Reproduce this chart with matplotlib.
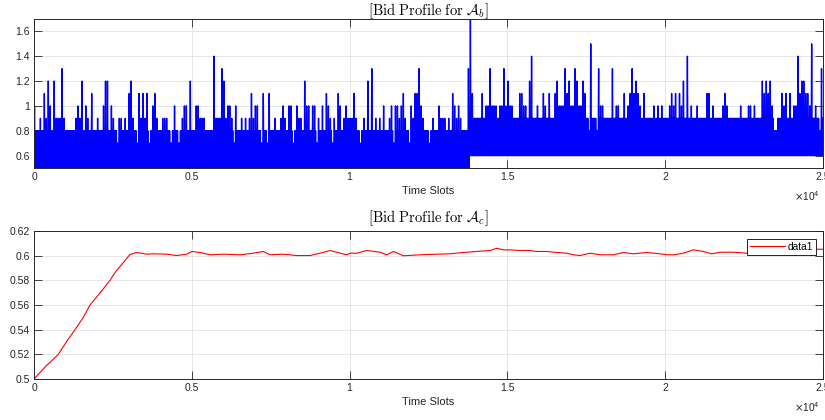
import numpy as np
import matplotlib
matplotlib.use("Agg")
import matplotlib.pyplot as plt

plt.rcParams["font.family"] = ["Liberation Sans", "DejaVu Sans"]

# ---------------- data ----------------
slots_total = 25000

# top panel: per-bin peak bid (in tenths), 400 bins over 25000 slots
bid_b_peak_tenths = [
    # bins 0-66
    10, 8, 8, 9, 8, 11, 9, 12, 10, 8, 12, 9, 9, 9, 13, 9, 8, 8, 8, 8,
    8, 9, 10, 9, 12, 8, 10, 9, 8, 11, 8, 8, 9, 8, 8, 10, 12, 12, 8, 10,
    9, 8, 7, 9, 9, 8, 9, 8, 11, 12, 9, 8, 7, 11, 9, 11, 9, 11, 7, 8,
    10, 11, 9, 8, 8, 9, 9,
    # bins 67-133
    9, 8, 7, 8, 10, 8, 7, 8, 9, 10, 10, 8, 12, 8, 8, 10, 10, 9, 9, 9,
    8, 8, 8, 8, 14, 9, 9, 9, 13, 12, 9, 10, 10, 9, 7, 10, 8, 8, 9, 8,
    9, 8, 9, 11, 9, 10, 10, 8, 7, 11, 8, 7, 11, 8, 8, 9, 8, 8, 9, 10,
    9, 8, 10, 10, 7, 8, 10,
    # bins 134-201
    9, 9, 8, 12, 10, 10, 8, 10, 10, 7, 9, 8, 10, 8, 11, 10, 9, 7, 9, 8,
    11, 10, 8, 9, 10, 9, 9, 9, 11, 9, 8, 7, 8, 9, 8, 12, 8, 13, 8, 9,
    8, 9, 8, 10, 8, 8, 9, 10, 7, 10, 10, 9, 10, 11, 9, 8, 7, 10, 9, 11,
    11, 13, 10, 9, 8, 8, 7, 8,
    # bins 202-268
    9, 8, 8, 10, 9, 9, 9, 8, 9, 8, 11, 10, 9, 10, 9, 8, 8, 8, 13, 17,
    11, 9, 9, 9, 9, 11, 9, 10, 10, 13, 10, 10, 10, 9, 10, 10, 13, 10, 12, 10,
    10, 9, 9, 9, 11, 11, 10, 10, 9, 12, 14, 9, 9, 10, 9, 9, 11, 10, 9, 11,
    9, 9, 11, 12, 10, 10, 10,
    # bins 269-336
    13, 11, 12, 10, 10, 13, 12, 10, 10, 12, 11, 9, 8, 15, 9, 9, 8, 13, 10, 10,
    9, 9, 9, 9, 13, 9, 10, 10, 9, 9, 11, 9, 10, 11, 13, 11, 12, 11, 10, 9,
    11, 9, 9, 9, 9, 10, 9, 10, 9, 10, 9, 9, 9, 10, 11, 10, 11, 9, 11, 10,
    12, 9, 14, 9, 10, 9, 9, 10,
    # bins 337-399
    9, 9, 9, 9, 11, 11, 9, 10, 9, 9, 9, 9, 10, 11, 10, 9, 9, 9, 9, 9,
    9, 10, 9, 9, 9, 10, 10, 9, 10, 9, 9, 9, 12, 11, 12, 11, 12, 10, 8, 8,
    9, 9, 11, 10, 11, 9, 11, 9, 10, 10, 14, 11, 12, 12, 11, 11, 10, 15, 9, 10,
    9, 8, 13,
]
bid_b_floor_before = 0.5
bid_b_floor_after = 0.6
bid_b_common_before = 0.8
bid_b_common_after = 0.9
bid_b_switch_slot = 13800

# bottom panel
bid_c_slots = [0, 380, 771, 1050, 1299, 1550, 1775, 2100, 2408, 2600, 2800, 3042, 3253,
               3570, 3782, 4204, 4521, 4838, 5007, 5260, 5577, 6000, 6528, 6950,
               7267, 7479, 7901, 8323, 8746, 9063, 9380, 9591, 9908, 10013, 10225,
               10542, 10965, 11176, 11387, 11704, 12232, 12761, 13183, 13606,
               14028, 14451, 14662, 14873, 15085, 15402, 15719, 15930, 16247,
               16564, 16881, 17092, 17303, 17620, 17937, 18360, 18677, 18994,
               19416, 19839, 20050, 20262, 20579, 20896, 21213, 21477, 21741,
               22164, 22586, 23009, 23500, 24200, 24803, 25000]
bid_c_values = [0.5, 0.5105, 0.52, 0.531, 0.54, 0.5495, 0.56, 0.570, 0.58, 0.5875,
                0.5935, 0.6010, 0.6026, 0.6012, 0.6015, 0.6012, 0.6001, 0.6012,
                0.6034, 0.6026, 0.6007, 0.6012, 0.6007, 0.6020, 0.6034, 0.6007,
                0.6012, 0.6001, 0.6001, 0.6020, 0.6042, 0.6028, 0.6007, 0.6020,
                0.6020, 0.6042, 0.6028, 0.6007, 0.6034, 0.5999, 0.6007, 0.6012,
                0.6015, 0.6026, 0.6034, 0.6042, 0.6060, 0.6047, 0.6047, 0.6042,
                0.6042, 0.6034, 0.6034, 0.6026, 0.6020, 0.6007, 0.6001, 0.6020,
                0.6007, 0.6007, 0.6026, 0.6015, 0.6026, 0.6015, 0.6007, 0.6007,
                0.6020, 0.6047, 0.6034, 0.6015, 0.6028, 0.6028, 0.6020, 0.6015,
                0.6025, 0.6040, 0.6052, 0.6052]

xtick_vals = [0, 5000, 10000, 15000, 20000, 25000]
xtick_labels = ["0", "0.5", "1", "1.5", "2", "2.5"]
top_yticks = [0.6, 0.8, 1.0, 1.2, 1.4, 1.6]
top_ytick_labels = ["0.6", "0.8", "1", "1.2", "1.4", "1.6"]
bot_yticks = [0.5, 0.52, 0.54, 0.56, 0.58, 0.6, 0.62]
bot_ytick_labels = ["0.5", "0.52", "0.54", "0.56", "0.58", "0.6", "0.62"]

# ---------------- build top trace (dense oscillation between floor and peak) ----------------
peaks = np.array(bid_b_peak_tenths) / 10.0
nbins = len(peaks)
w = slots_total / nbins
t_top, v_top = [], []
for k, m in enumerate(peaks):
    t0 = k * w
    before = t0 < bid_b_switch_slot
    floor = bid_b_floor_before if before else bid_b_floor_after
    common = bid_b_common_before if before else bid_b_common_after
    tops = [m, min(m, common)]
    for j in range(4):
        t_top.append(t0 + j * w / 4)
        v_top.append(floor if j % 2 == 0 else tops[j // 2])

# ---------------- figure ----------------
fig = plt.figure(figsize=(8.25, 4.2), dpi=100)
W, H = 825, 420
ax1 = fig.add_axes([34 / W, 1 - 168 / H, 789 / W, 149 / H])
ax2 = fig.add_axes([34 / W, 1 - 379 / H, 789 / W, 148 / H])

axcol = "#262626"
for ax in (ax1, ax2):
    ax.set_axisbelow(True)
    ax.grid(True, color="#e2e2e2", linewidth=0.6)
    ax.tick_params(direction="in", top=True, right=True, length=5.5, width=0.6,
                   colors=axcol, labelsize=7.5, pad=3)
    for s in ax.spines.values():
        s.set_color(axcol)
        s.set_linewidth(0.7)
    ax.set_xlim(0, slots_total)
    ax.set_xticks(xtick_vals)
    ax.set_xticklabels(xtick_labels)
    ax.set_xlabel("Time Slots", fontsize=8, color=axcol, labelpad=3)
    ax.text(0.996, -0.19, r"$\times\mathregular{10^{4}}$", transform=ax.transAxes,
            ha="right", va="center", fontsize=7.3, color=axcol)

ax1.plot(t_top, v_top, color=(0, 0, 1), linewidth=1.0, antialiased=True)
ax1.set_ylim(0.5, 1.7)
ax1.set_yticks(top_yticks)
ax1.set_yticklabels(top_ytick_labels)
ax1.set_title(r"$[\mathrm{Bid\ Profile\ for\ }\mathcal{A}_b]$", fontsize=10.5,
              pad=3, math_fontfamily="cm")

ax2.plot(bid_c_slots, bid_c_values, color=(1, 0, 0), linewidth=0.8, label="data1")
ax2.set_ylim(0.5, 0.62)
ax2.set_yticks(bot_yticks)
ax2.set_yticklabels(bot_ytick_labels)
ax2.set_title(r"$[\mathrm{Bid\ Profile\ for\ }\mathcal{A}_c]$", fontsize=10.5,
              pad=6, math_fontfamily="cm")
leg = ax2.legend(loc="upper right", bbox_to_anchor=((816 - 34) / 789, (379 - 239) / 148),
                 borderaxespad=0, fontsize=7.3, handlelength=3.4, handletextpad=0.3,
                 borderpad=0.3, fancybox=False, framealpha=1, edgecolor="black")
leg.get_frame().set_linewidth(0.6)

fig.savefig("out.png", dpi=100)
